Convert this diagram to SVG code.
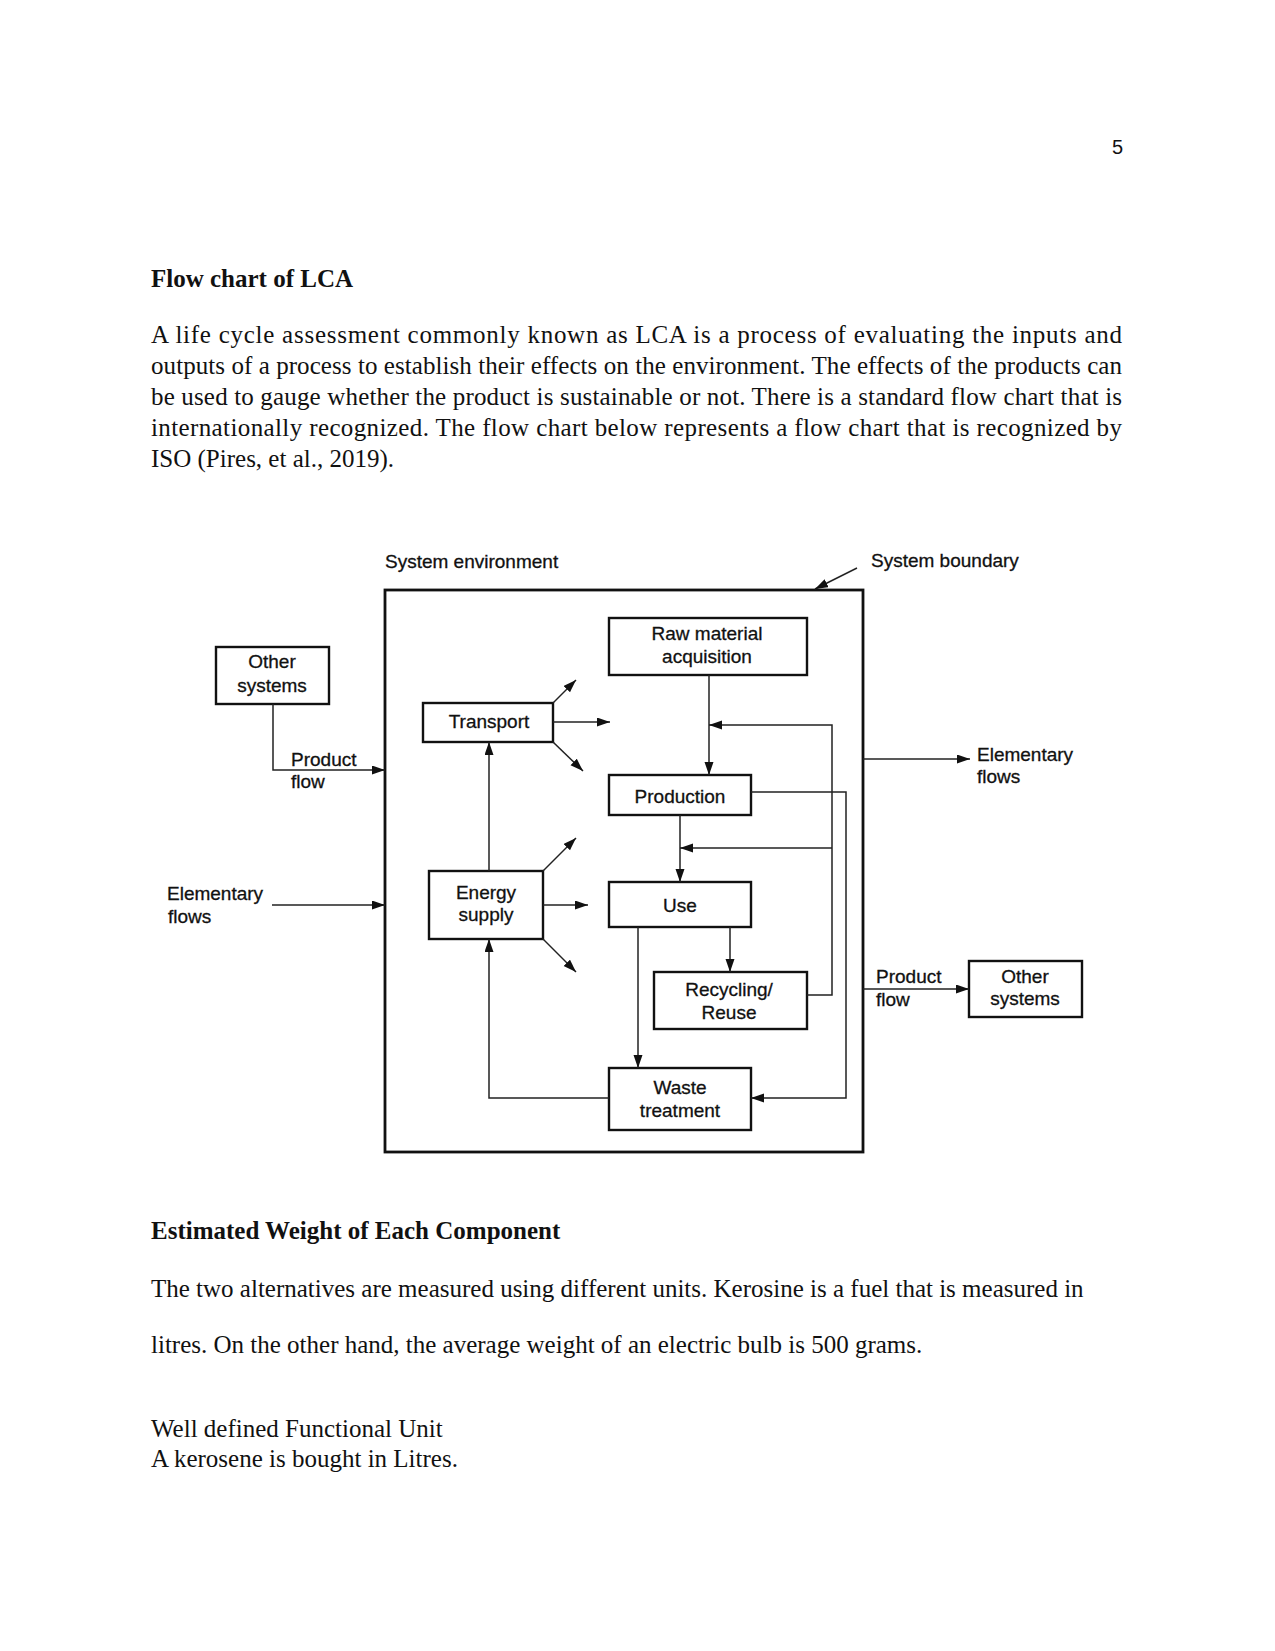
<svg xmlns="http://www.w3.org/2000/svg" width="1275" height="1651" viewBox="0 0 1275 1651">
<defs>
<style>
.body{font-family:"Liberation Serif","Times New Roman",serif;font-size:25px;fill:#111}
.bold{font-weight:bold}
.lbl{font-family:"Liberation Sans",Arial,sans-serif;font-size:19px;fill:#111;stroke:#111;stroke-width:0.3}
.mid{text-anchor:middle}
.box{fill:#fff;stroke:#111;stroke-width:2.4}
.bound{fill:none;stroke:#111;stroke-width:2.8}
.c{fill:none;stroke:#222;stroke-width:1.5}
.a{marker-end:url(#ah)}
</style>
<marker id="ah" markerUnits="userSpaceOnUse" markerWidth="14" markerHeight="10" refX="13" refY="4.5" orient="auto">
<path d="M0,0 L13,4.5 L0,9 z" fill="#111"/>
</marker>
</defs>
<rect width="1275" height="1651" fill="#fff"/>

<text x="1123" y="154" font-family="Liberation Sans,Arial,sans-serif" font-size="20" fill="#111" text-anchor="end">5</text>

<text class="body bold" x="151" y="287">Flow chart of LCA</text>
<text class="body" x="151" y="343" textLength="971" lengthAdjust="spacing">A life cycle assessment commonly known as LCA is a process of evaluating the inputs and</text>
<text class="body" x="151" y="374" textLength="971" lengthAdjust="spacing">outputs of a process to establish their effects on the environment. The effects of the products can</text>
<text class="body" x="151" y="405" textLength="971" lengthAdjust="spacing">be used to gauge whether the product is sustainable or not. There is a standard flow chart that is</text>
<text class="body" x="151" y="436" textLength="971" lengthAdjust="spacing">internationally recognized. The flow chart below represents a flow chart that is recognized by</text>
<text class="body" x="151" y="467">ISO (Pires, et al., 2019).</text>

<g id="boundary">
<rect class="bound" x="385" y="590" width="478" height="562"/>
<text class="lbl" x="385" y="568">System environment</text>
<text class="lbl" x="871" y="567">System boundary</text>
</g>

<g id="other-systems-in">
<rect class="box" x="216" y="647" width="113" height="57"/>
<text class="lbl mid" x="272" y="668">Other</text>
<text class="lbl mid" x="272" y="692">systems</text>
</g>
<g id="transport">
<rect class="box" x="423" y="703" width="130" height="39"/>
<text class="lbl mid" x="489" y="728">Transport</text>
</g>
<g id="energy-supply">
<rect class="box" x="429" y="871" width="114" height="68"/>
<text class="lbl mid" x="486" y="899">Energy</text>
<text class="lbl mid" x="486" y="921">supply</text>
</g>
<g id="raw-material">
<rect class="box" x="609" y="618" width="198" height="57"/>
<text class="lbl mid" x="707" y="640">Raw material</text>
<text class="lbl mid" x="707" y="663">acquisition</text>
</g>
<g id="production">
<rect class="box" x="609" y="775" width="142" height="40"/>
<text class="lbl mid" x="680" y="803">Production</text>
</g>
<g id="use">
<rect class="box" x="609" y="882" width="142" height="45"/>
<text class="lbl mid" x="680" y="912">Use</text>
</g>
<g id="recycling">
<rect class="box" x="654" y="972" width="153" height="57"/>
<text class="lbl mid" x="729" y="996">Recycling/</text>
<text class="lbl mid" x="729" y="1019">Reuse</text>
</g>
<g id="waste">
<rect class="box" x="609" y="1068" width="142" height="62"/>
<text class="lbl mid" x="680" y="1094">Waste</text>
<text class="lbl mid" x="680" y="1117">treatment</text>
</g>
<g id="other-systems-out">
<rect class="box" x="969" y="961" width="113" height="56"/>
<text class="lbl mid" x="1025" y="983">Other</text>
<text class="lbl mid" x="1025" y="1005">systems</text>
</g>

<g id="labels">
<text class="lbl" x="291" y="766">Product</text>
<text class="lbl" x="291" y="788">flow</text>
<text class="lbl" x="167" y="900">Elementary</text>
<text class="lbl" x="168" y="923">flows</text>
<text class="lbl" x="977" y="761">Elementary</text>
<text class="lbl" x="977" y="783">flows</text>
<text class="lbl" x="876" y="983">Product</text>
<text class="lbl" x="876" y="1006">flow</text>
</g>

<g id="connectors">
<path class="c a" d="M857,568 L815,589"/>
<path class="c a" d="M273,704 L273,770 L385,770"/>
<path class="c a" d="M272,905 L385,905"/>
<path class="c a" d="M863,759 L970,759"/>
<path class="c a" d="M863,989 L969,989"/>
<path class="c a" d="M553,703 L576,680"/>
<path class="c a" d="M553,722 L610,722"/>
<path class="c a" d="M553,742 L583,771"/>
<path class="c a" d="M543,871 L576,838"/>
<path class="c a" d="M543,905 L588,905"/>
<path class="c a" d="M543,939 L576,972"/>
<path class="c a" d="M489,871 L489,742"/>
<path class="c a" d="M609,1098 L489,1098 L489,939"/>
<path class="c a" d="M709,675 L709,775"/>
<path class="c a" d="M680,815 L680,882"/>
<path class="c a" d="M638,927 L638,1068"/>
<path class="c a" d="M730,927 L730,972"/>
<path class="c a" d="M807,995 L832,995 L832,725 L709,725"/>
<path class="c a" d="M832,848 L680,848"/>
<path class="c a" d="M751,792 L846,792 L846,1098 L751,1098"/>
</g>

<text class="body bold" x="151" y="1239">Estimated Weight of Each Component</text>
<text class="body" x="151" y="1297">The two alternatives are measured using different units. Kerosine is a fuel that is measured in</text>
<text class="body" x="151" y="1353">litres. On the other hand, the average weight of an electric bulb is 500 grams.</text>
<text class="body" x="151" y="1437">Well defined Functional Unit</text>
<text class="body" x="151" y="1467">A kerosene is bought in Litres.</text>
</svg>
